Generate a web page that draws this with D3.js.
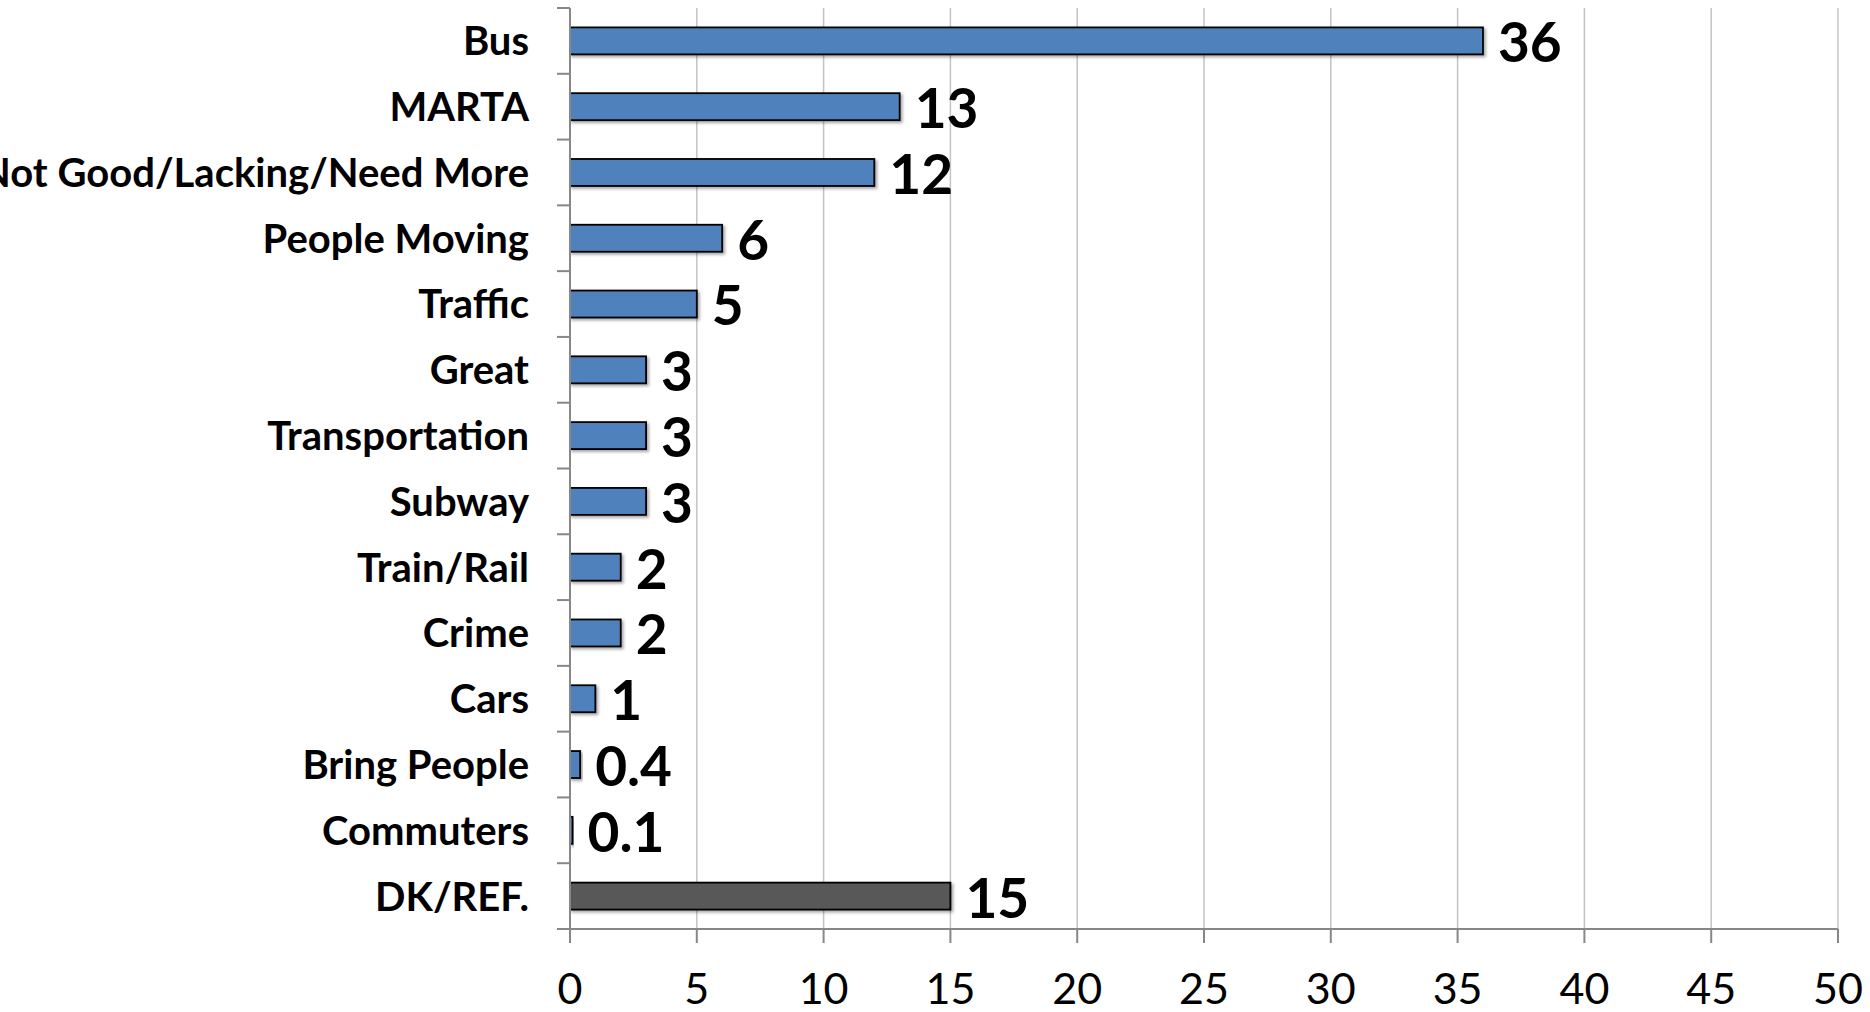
<!DOCTYPE html>
<html>
<head>
<meta charset="utf-8">
<script src="https://cdn.jsdelivr.net/npm/d3@7"></script>
<style>
  html, body { margin: 0; padding: 0; background: #fff; }
  svg { display: block; }
</style>
</head>
<body>
<svg id="chart" width="1870" height="1012"></svg>
<script>
const categories = ["Bus", "MARTA", "Not Good/Lacking/Need More", "People Moving", "Traffic", "Great",
  "Transportation", "Subway", "Train/Rail", "Crime", "Cars", "Bring People", "Commuters", "DK/REF."];
const values = [36, 13, 12, 6, 5, 3, 3, 3, 2, 2, 1, 0.4, 0.1, 15];
const xTicks = [0, 5, 10, 15, 20, 25, 30, 35, 40, 45, 50];

const width = 1870, height = 1012;
const margin = {top: 8, right: 32, bottom: 83, left: 570};
const innerW = width - margin.left - margin.right;
const innerH = height - margin.top - margin.bottom;

const svg = d3.select("#chart");

// soft shadow like the old office bars
const defs = svg.append("defs");
defs.append("filter").attr("id", "shadow").attr("x", "-10%").attr("y", "-20%").attr("width", "130%").attr("height", "160%")
  .append("feDropShadow").attr("dx", 2).attr("dy", 2).attr("stdDeviation", 1.5)
  .attr("flood-color", "#000").attr("flood-opacity", 0.35);

const g = svg.append("g").attr("transform", `translate(${margin.left},${margin.top})`);

const x = d3.scaleLinear().domain([0, 50]).range([0, innerW]);
const y = d3.scaleBand().domain(categories).range([0, innerH]);
const barH = y.bandwidth() * 0.41;

// gridlines
g.append("g").selectAll("line")
  .data(xTicks.filter(t => t > 0))
  .join("line")
  .attr("x1", d => x(d)).attr("x2", d => x(d))
  .attr("y1", 0).attr("y2", innerH)
  .attr("stroke", "#c4c4c4").attr("stroke-width", 1.5);

// bars
g.append("g").selectAll("rect")
  .data(categories)
  .join("rect")
  .attr("x", x(0))
  .attr("y", d => y(d) + (y.bandwidth() - barH) / 2)
  .attr("width", (d, i) => x(values[i]) - x(0))
  .attr("height", barH)
  .attr("fill", d => d === "DK/REF." ? "#595959" : "#4f81bd")
  .attr("stroke", "#000")
  .attr("stroke-width", 1.8)
  .attr("filter", "url(#shadow)");

// value labels
g.append("g").selectAll("text")
  .data(categories)
  .join("text")
  .attr("x", (d, i) => x(values[i]) + 15)
  .attr("y", d => y(d) + y.bandwidth() / 2)
  .attr("dy", "0.39em")
  .attr("font-family", "Lato, 'Open Sans', sans-serif")
  .attr("font-weight", 700)
  .attr("font-size", 55)
  .attr("fill", "#000")
  .text((d, i) => values[i]);

// y axis line + boundary ticks
const axisColor = "#878787";
g.append("line")
  .attr("x1", 0).attr("x2", 0).attr("y1", 0).attr("y2", innerH)
  .attr("stroke", axisColor).attr("stroke-width", 2);
g.append("g").selectAll("line")
  .data(categories)
  .join("line")
  .attr("x1", -13).attr("x2", 0)
  .attr("y1", d => y(d)).attr("y2", d => y(d))
  .attr("stroke", axisColor).attr("stroke-width", 2);

// category labels
g.append("g").selectAll("text")
  .data(categories)
  .join("text")
  .attr("x", -41)
  .attr("y", d => y(d) + y.bandwidth() / 2)
  .attr("dy", "0.36em")
  .attr("text-anchor", "end")
  .attr("font-family", "Lato, 'Open Sans', sans-serif")
  .attr("font-weight", 700)
  .attr("font-size", 40)
  .attr("fill", "#000")
  .text(d => d);

// x axis
g.append("line")
  .attr("x1", -13).attr("x2", innerW).attr("y1", innerH).attr("y2", innerH)
  .attr("stroke", axisColor).attr("stroke-width", 2);
const xt = g.append("g").selectAll("g")
  .data(xTicks)
  .join("g")
  .attr("transform", d => `translate(${x(d)},${innerH})`);
xt.append("line").attr("y1", 0).attr("y2", 14).attr("stroke", axisColor).attr("stroke-width", 2);
xt.append("text")
  .attr("y", 75)
  .attr("text-anchor", "middle")
  .attr("font-family", "Lato, 'Open Sans', sans-serif")
  .attr("font-size", 43)
  .attr("fill", "#000")
  .text(d => d);
</script>
</body>
</html>
